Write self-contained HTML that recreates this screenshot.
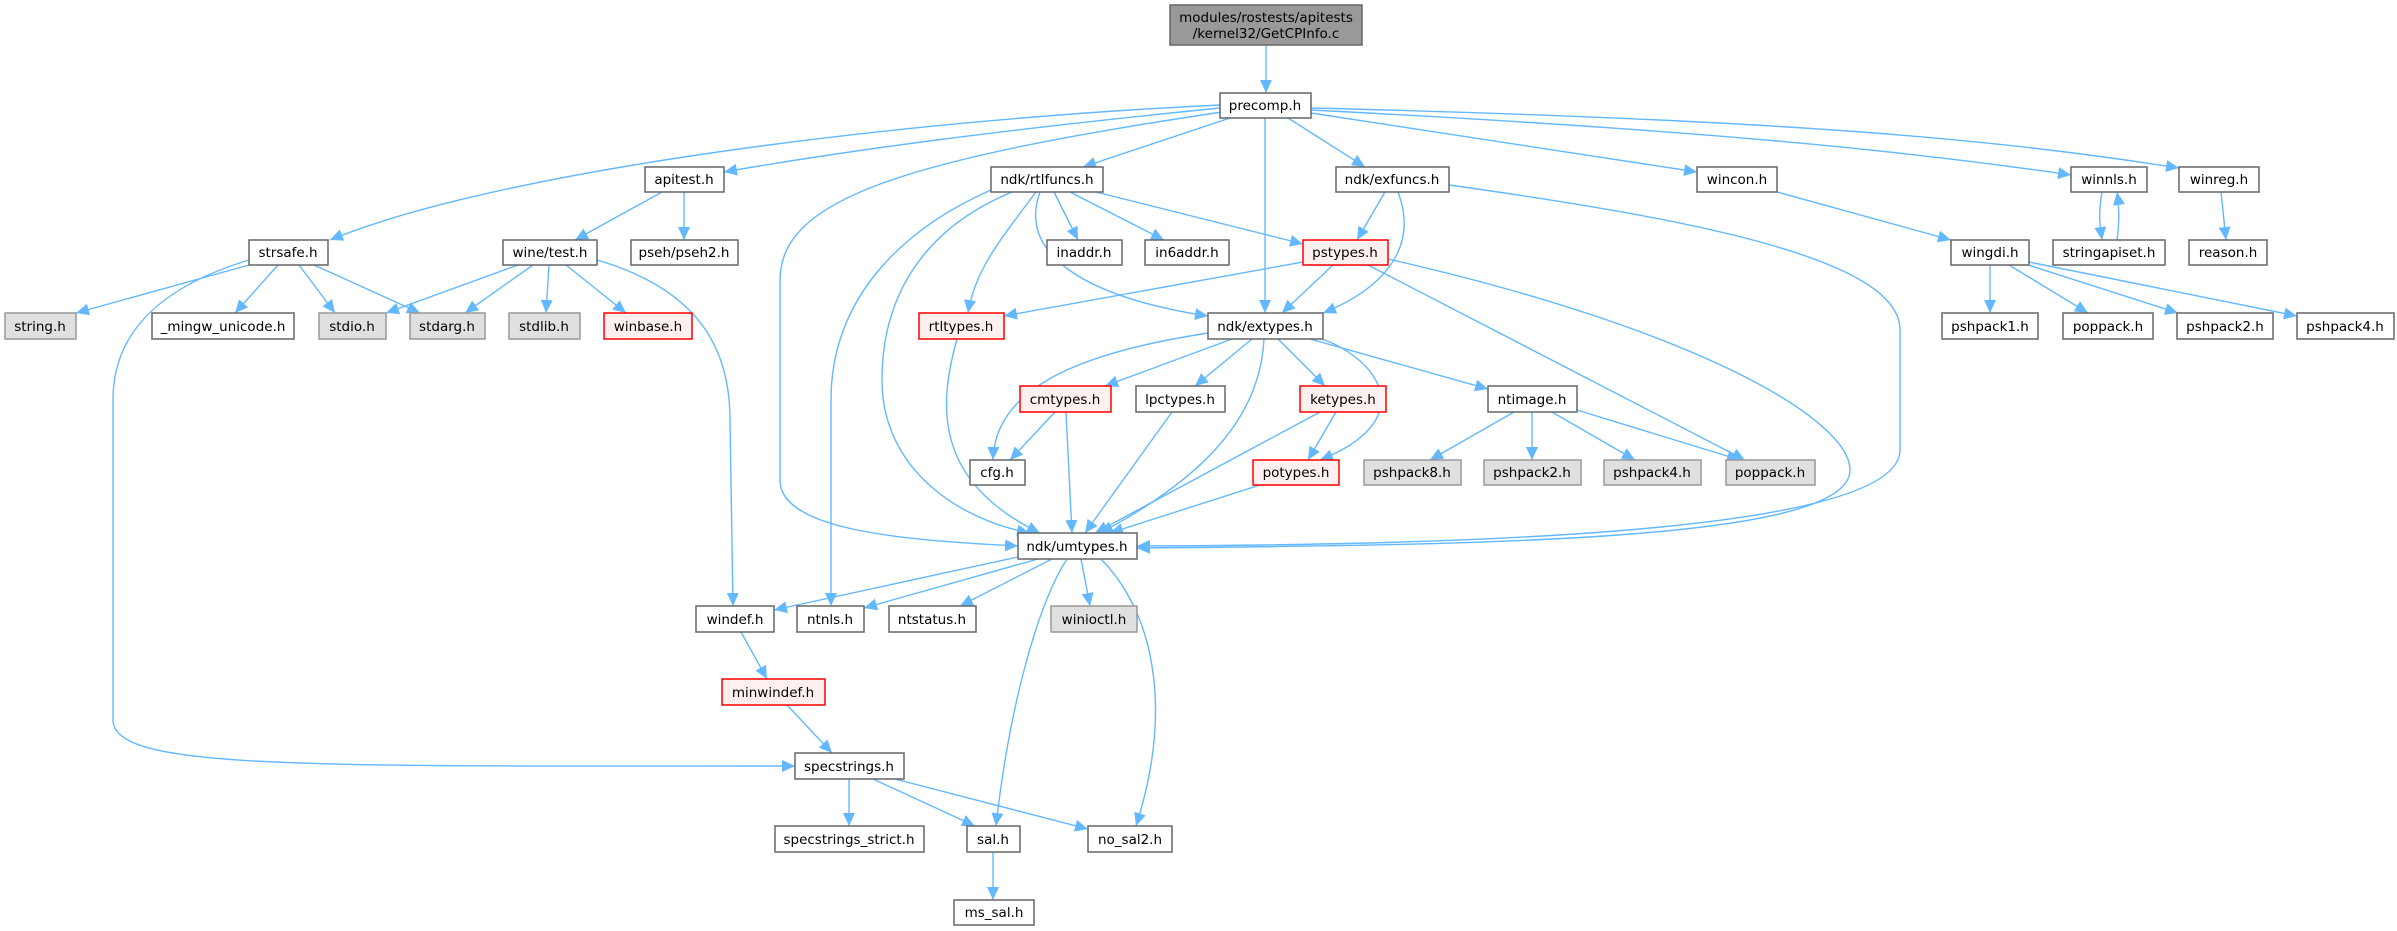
<!DOCTYPE html>
<html><head><meta charset="utf-8"><style>
html,body{margin:0;padding:0;background:#fff;}
svg{display:block;}
text{font-family:"DejaVu Sans","Liberation Sans",sans-serif;font-size:13.5px;fill:#000;text-anchor:middle;}
.e{fill:none;stroke:#63b8ff;stroke-width:1.4;marker-end:url(#a);}
.n rect{fill:#fff;stroke:#666;stroke-width:1.5;}
.g rect{fill:#e0e0e0;stroke:#999;stroke-width:1.5;}
.r rect{fill:#fff0f0;stroke:#f00;stroke-width:1.5;}
</style></head><body>
<svg width="2397" height="931" viewBox="0 0 2397 931" xmlns="http://www.w3.org/2000/svg">
<defs><marker id="a" markerUnits="userSpaceOnUse" markerWidth="14" markerHeight="12" refX="13" refY="6" orient="auto"><path d="M0,0 L13,6 L0,12 Z" fill="#63b8ff"/></marker></defs>
<g>
<path class="e" d="M1266,45 L1266,93"/>
<path class="e" d="M1220,105 C900,120 500,170 330,240"/>
<path class="e" d="M1220,108 C1000,130 850,150 724,172"/>
<path class="e" d="M1222,112 C900,160 780,200 780,280 L780,480 C780,530 900,540 1018,546"/>
<path class="e" d="M1230,118 L1083,167"/>
<path class="e" d="M1265,118 L1265,313"/>
<path class="e" d="M1288,118 L1365,167"/>
<path class="e" d="M1311,113 L1697,172"/>
<path class="e" d="M1311,110 C1700,130 1900,150 2071,175"/>
<path class="e" d="M1311,108 C1800,120 2000,140 2179,168"/>
<path class="e" d="M662,192 L575,240"/>
<path class="e" d="M684,192 L684,240"/>
<path class="e" d="M249,265 L76,313"/>
<path class="e" d="M278,265 L235,313"/>
<path class="e" d="M299,265 L335,313"/>
<path class="e" d="M314,265 L420,313"/>
<path class="e" d="M249,260 C150,290 113,340 113,400 L113,720 C113,770 300,766 795,766"/>
<path class="e" d="M518,265 L386,313"/>
<path class="e" d="M533,265 L465,313"/>
<path class="e" d="M549,265 L546,313"/>
<path class="e" d="M566,265 L626,313"/>
<path class="e" d="M597,260 C700,290 730,350 730,420 L733,606"/>
<path class="e" d="M991,190 C900,230 831,300 831,400 L831,606"/>
<path class="e" d="M1012,192 C920,230 882,300 882,380 C882,470 960,520 1030,533"/>
<path class="e" d="M1036,192 C1000,240 975,270 968,313"/>
<path class="e" d="M1040,192 C1015,260 1100,300 1208,316"/>
<path class="e" d="M1054,192 L1078,240"/>
<path class="e" d="M1070,192 L1164,240"/>
<path class="e" d="M1096,192 L1303,244"/>
<path class="e" d="M957,339 C940,400 930,480 1040,533"/>
<path class="e" d="M1385,192 L1357,240"/>
<path class="e" d="M1398,192 C1420,250 1380,290 1323,313"/>
<path class="e" d="M1449,185 C1700,220 1900,260 1900,330 L1900,450 C1900,530 1500,545 1137,546"/>
<path class="e" d="M1303,262 L1004,316"/>
<path class="e" d="M1333,265 L1282,313"/>
<path class="e" d="M1368,265 L1745,460"/>
<path class="e" d="M1388,259 C1700,330 1850,420 1850,470 C1850,540 1500,545 1137,548"/>
<path class="e" d="M1208,333 C1100,350 995,380 993,460"/>
<path class="e" d="M1232,339 L1105,386"/>
<path class="e" d="M1252,339 L1195,386"/>
<path class="e" d="M1278,339 L1325,386"/>
<path class="e" d="M1310,339 L1488,389"/>
<path class="e" d="M1322,339 C1380,360 1420,420 1320,460"/>
<path class="e" d="M1264,339 C1260,420 1200,480 1100,533"/>
<path class="e" d="M1055,412 L1010,460"/>
<path class="e" d="M1066,412 L1072,533"/>
<path class="e" d="M1172,412 L1085,533"/>
<path class="e" d="M1320,412 L1095,533"/>
<path class="e" d="M1336,412 L1308,460"/>
<path class="e" d="M1260,485 L1110,533"/>
<path class="e" d="M1514,412 L1430,460"/>
<path class="e" d="M1532,412 L1532,460"/>
<path class="e" d="M1552,412 L1635,460"/>
<path class="e" d="M1577,410 L1740,460"/>
<path class="e" d="M1777,192 L1951,240"/>
<path class="e" d="M2102,192 C2098,215 2100,225 2102,240"/>
<path class="e" d="M2117,240 C2120,220 2119,205 2117,192"/>
<path class="e" d="M2221,192 L2226,240"/>
<path class="e" d="M1990,265 L1990,313"/>
<path class="e" d="M2009,265 L2088,313"/>
<path class="e" d="M2028,265 L2178,313"/>
<path class="e" d="M2029,262 L2297,316"/>
<path class="e" d="M1018,557 L774,610"/>
<path class="e" d="M1038,559 L864,608"/>
<path class="e" d="M1052,559 L960,606"/>
<path class="e" d="M1081,559 L1090,606"/>
<path class="e" d="M1067,559 C1040,600 1010,700 996,826"/>
<path class="e" d="M1101,559 C1160,620 1170,720 1136,826"/>
<path class="e" d="M741,632 L767,679"/>
<path class="e" d="M787,705 L832,753"/>
<path class="e" d="M849,779 L849,826"/>
<path class="e" d="M873,779 L975,826"/>
<path class="e" d="M895,779 L1088,829"/>
<path class="e" d="M993,852 L993,900"/>
</g>
<g>
<rect x="1170" y="5" width="192" height="40" fill="#999" stroke="#666" stroke-width="1.5"/>
<text x="1266" y="22">modules/rostests/apitests</text><text x="1266" y="38">/kernel32/GetCPInfo.c</text>
</g>
<g class="n">
<rect x="1220" y="93" width="91" height="25"/><text x="1265" y="110">precomp.h</text>
<rect x="645" y="167" width="79" height="25"/><text x="684" y="184">apitest.h</text>
<rect x="991" y="167" width="112" height="25"/><text x="1047" y="184">ndk/rtlfuncs.h</text>
<rect x="1336" y="167" width="113" height="25"/><text x="1392" y="184">ndk/exfuncs.h</text>
<rect x="1697" y="167" width="80" height="25"/><text x="1737" y="184">wincon.h</text>
<rect x="2071" y="167" width="76" height="25"/><text x="2109" y="184">winnls.h</text>
<rect x="2179" y="167" width="80" height="25"/><text x="2219" y="184">winreg.h</text>
<rect x="249" y="240" width="79" height="25"/><text x="288" y="257">strsafe.h</text>
<rect x="503" y="240" width="94" height="25"/><text x="550" y="257">wine/test.h</text>
<rect x="631" y="240" width="107" height="25"/><text x="684" y="257">pseh/pseh2.h</text>
<rect x="1047" y="240" width="75" height="25"/><text x="1084" y="257">inaddr.h</text>
<rect x="1145" y="240" width="84" height="25"/><text x="1187" y="257">in6addr.h</text>
<rect x="1951" y="240" width="78" height="25"/><text x="1990" y="257">wingdi.h</text>
<rect x="2053" y="240" width="112" height="25"/><text x="2109" y="257">stringapiset.h</text>
<rect x="2189" y="240" width="78" height="25"/><text x="2228" y="257">reason.h</text>
<rect x="152" y="313" width="142" height="26"/><text x="223" y="331">_mingw_unicode.h</text>
<rect x="1208" y="313" width="115" height="26"/><text x="1265" y="331">ndk/extypes.h</text>
<rect x="1942" y="313" width="96" height="26"/><text x="1990" y="331">pshpack1.h</text>
<rect x="2063" y="313" width="90" height="26"/><text x="2108" y="331">poppack.h</text>
<rect x="2177" y="313" width="96" height="26"/><text x="2225" y="331">pshpack2.h</text>
<rect x="2297" y="313" width="97" height="26"/><text x="2345" y="331">pshpack4.h</text>
<rect x="1136" y="386" width="89" height="26"/><text x="1180" y="404">lpctypes.h</text>
<rect x="1488" y="386" width="89" height="26"/><text x="1532" y="404">ntimage.h</text>
<rect x="970" y="460" width="55" height="25"/><text x="997" y="477">cfg.h</text>
<rect x="1018" y="533" width="119" height="26"/><text x="1077" y="551">ndk/umtypes.h</text>
<rect x="696" y="606" width="78" height="26"/><text x="735" y="624">windef.h</text>
<rect x="797" y="606" width="67" height="26"/><text x="830" y="624">ntnls.h</text>
<rect x="889" y="606" width="87" height="26"/><text x="932" y="624">ntstatus.h</text>
<rect x="795" y="753" width="109" height="26"/><text x="849" y="771">specstrings.h</text>
<rect x="775" y="826" width="149" height="26"/><text x="849" y="844">specstrings_strict.h</text>
<rect x="967" y="826" width="53" height="26"/><text x="993" y="844">sal.h</text>
<rect x="1088" y="826" width="84" height="26"/><text x="1130" y="844">no_sal2.h</text>
<rect x="954" y="900" width="80" height="25"/><text x="994" y="917">ms_sal.h</text>
</g>
<g class="g">
<rect x="5" y="313" width="71" height="26"/><text x="40" y="331">string.h</text>
<rect x="319" y="313" width="67" height="26"/><text x="352" y="331">stdio.h</text>
<rect x="410" y="313" width="75" height="26"/><text x="447" y="331">stdarg.h</text>
<rect x="509" y="313" width="71" height="26"/><text x="544" y="331">stdlib.h</text>
<rect x="1364" y="460" width="97" height="25"/><text x="1412" y="477">pshpack8.h</text>
<rect x="1484" y="460" width="97" height="25"/><text x="1532" y="477">pshpack2.h</text>
<rect x="1604" y="460" width="97" height="25"/><text x="1652" y="477">pshpack4.h</text>
<rect x="1726" y="460" width="89" height="25"/><text x="1770" y="477">poppack.h</text>
<rect x="1051" y="606" width="86" height="26"/><text x="1094" y="624">winioctl.h</text>
</g>
<g class="r">
<rect x="604" y="313" width="88" height="26"/><text x="648" y="331">winbase.h</text>
<rect x="1303" y="240" width="85" height="25"/><text x="1345" y="257">pstypes.h</text>
<rect x="919" y="313" width="85" height="26"/><text x="961" y="331">rtltypes.h</text>
<rect x="1020" y="386" width="91" height="26"/><text x="1065" y="404">cmtypes.h</text>
<rect x="1300" y="386" width="86" height="26"/><text x="1343" y="404">ketypes.h</text>
<rect x="1253" y="460" width="86" height="25"/><text x="1296" y="477">potypes.h</text>
<rect x="722" y="679" width="103" height="26"/><text x="773" y="697">minwindef.h</text>
</g>
</svg>
</body></html>
